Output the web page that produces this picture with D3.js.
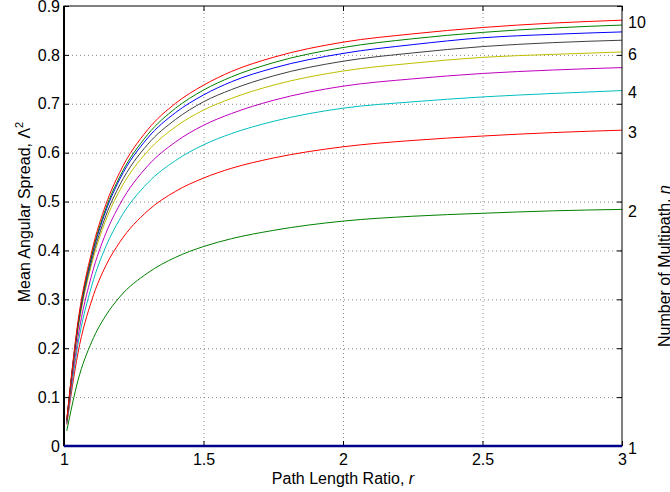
<!DOCTYPE html>
<html>
<head>
<meta charset="utf-8">
<script src="https://cdn.jsdelivr.net/npm/d3@7"></script>
<style>
  body { margin: 0; background: #fff; }
  svg { font-family: "Liberation Sans", Arial, Helvetica, sans-serif; }
</style>
</head>
<body>
<script>
// path length ratio samples
const rValues = [1.01, 1.05, 1.1, 1.15, 1.2, 1.3, 1.4, 1.5, 1.6, 1.75, 2, 2.25, 2.5, 2.75, 3];

// mean angular spread for each number of multipath n
const n1  = [0, 0, 0, 0, 0, 0, 0, 0, 0, 0, 0, 0, 0, 0, 0];
const n2  = [0.031, 0.134, 0.214, 0.267, 0.305, 0.354, 0.386, 0.408, 0.424, 0.441, 0.460, 0.470, 0.476, 0.481, 0.484];
const n3  = [0.044, 0.190, 0.299, 0.369, 0.417, 0.481, 0.521, 0.548, 0.568, 0.589, 0.612, 0.625, 0.634, 0.641, 0.646];
const n4  = [0.046, 0.208, 0.329, 0.408, 0.464, 0.538, 0.584, 0.616, 0.639, 0.664, 0.691, 0.704, 0.714, 0.721, 0.727];
const n5  = [0.048, 0.222, 0.351, 0.435, 0.494, 0.573, 0.622, 0.656, 0.680, 0.707, 0.736, 0.751, 0.762, 0.769, 0.774];
const n6  = [0.050, 0.238, 0.374, 0.462, 0.523, 0.603, 0.653, 0.687, 0.711, 0.738, 0.767, 0.783, 0.795, 0.801, 0.806];
const n7  = [0.051, 0.242, 0.381, 0.471, 0.534, 0.617, 0.668, 0.704, 0.729, 0.757, 0.787, 0.804, 0.817, 0.825, 0.830];
const n8  = [0.052, 0.248, 0.389, 0.481, 0.546, 0.630, 0.682, 0.718, 0.745, 0.773, 0.803, 0.821, 0.835, 0.842, 0.847];
const n9  = [0.053, 0.249, 0.392, 0.486, 0.551, 0.637, 0.691, 0.728, 0.755, 0.784, 0.815, 0.833, 0.846, 0.855, 0.861];
const n10 = [0.054, 0.254, 0.399, 0.494, 0.560, 0.647, 0.701, 0.738, 0.766, 0.795, 0.826, 0.843, 0.856, 0.865, 0.871];

const series = [n1, n2, n3, n4, n5, n6, n7, n8, n9, n10];
const seriesColors = ["#0000ff", "#008000", "#ff0000", "#00bfbf", "#bf00bf",
                      "#bfbf00", "#404040", "#0000ff", "#008000", "#ff0000"];

// right side labels (n) placed at the curve end values
const rightLabels = ["1", "2", "3", "4", "6", "10"];
const rightValues = [0, 0.484, 0.646, 0.727, 0.806, 0.871];

const xTicks = [1, 1.5, 2, 2.5, 3];
const yTicks = [0, 0.1, 0.2, 0.3, 0.4, 0.5, 0.6, 0.7, 0.8, 0.9];

const width = 670;
const height = 492;
const mLeft = 64, mRight = 622, mTop = 6, mBottom = 446;

const svg = d3.select("body")
    .append("svg")
    .attr("width", width)
    .attr("height", height);

const x = d3.scaleLinear().domain([1, 3]).range([mLeft, mRight]);
const y = d3.scaleLinear().domain([0, 0.9]).range([mBottom, mTop]);

// grid
svg.append("g")
    .attr("transform", `translate(0,${mBottom})`)
    .call(d3.axisBottom(x).tickValues(xTicks.slice(1, -1)).tickSize(-(mBottom - mTop)).tickFormat(""))
    .call(g => g.select(".domain").remove())
    .selectAll("line")
    .attr("stroke", "#888")
    .attr("stroke-dasharray", "1,3");

svg.append("g")
    .attr("transform", `translate(${mLeft},0)`)
    .call(d3.axisLeft(y).tickValues(yTicks.slice(1, -1)).tickSize(-(mRight - mLeft)).tickFormat(""))
    .call(g => g.select(".domain").remove())
    .selectAll("line")
    .attr("stroke", "#888")
    .attr("stroke-dasharray", "1,3");

// curves
const line = d3.line()
    .x((d, i) => x(rValues[i]))
    .y(d => y(d))
    .curve(d3.curveMonotoneX);

series.forEach((s, k) => {
    if (k === 0) return;
    svg.append("path")
        .datum(s)
        .attr("fill", "none")
        .attr("stroke", seriesColors[k])
        .attr("stroke-width", 1)
        .attr("d", line);
});

// axes with inward ticks
const fontSize = "16px";

svg.append("g")
    .attr("transform", `translate(0,${mBottom})`)
    .call(d3.axisBottom(x).tickValues(xTicks).tickSizeInner(-5).tickSizeOuter(0).tickPadding(8).tickFormat(d3.format("")))
    .call(g => g.select(".domain").remove())
    .call(g => g.selectAll("text").attr("font-size", fontSize).attr("fill", "#000"));

svg.append("g")
    .attr("transform", `translate(${mLeft},0)`)
    .call(d3.axisLeft(y).tickValues(yTicks).tickSizeInner(-5).tickSizeOuter(0).tickPadding(4).tickFormat(d3.format("")))
    .call(g => g.select(".domain").remove())
    .call(g => g.selectAll("text").attr("font-size", fontSize).attr("fill", "#000"));

svg.append("g")
    .attr("transform", `translate(0,${mTop})`)
    .call(d3.axisTop(x).tickValues(xTicks).tickSizeInner(-5).tickSizeOuter(0).tickFormat(""))
    .call(g => g.select(".domain").remove());

svg.append("g")
    .attr("transform", `translate(${mRight},0)`)
    .call(d3.axisRight(y).tickValues(yTicks).tickSizeInner(-5).tickSizeOuter(0).tickFormat(""))
    .call(g => g.select(".domain").remove());

// n labels on the right
svg.append("g")
    .attr("transform", `translate(${mRight},0)`)
    .call(d3.axisRight(y).tickValues(rightValues).tickSize(0).tickPadding(6)
        .tickFormat((d, i) => rightLabels[i]))
    .call(g => g.select(".domain").remove())
    .call(g => g.selectAll("text").attr("font-size", fontSize).attr("fill", "#000").attr("dy", "0.45em"));

// box
svg.append("rect")
    .attr("x", mLeft).attr("y", mTop)
    .attr("width", mRight - mLeft).attr("height", mBottom - mTop)
    .attr("fill", "none").attr("stroke", "#000").attr("stroke-width", 1);
svg.append("line")
    .attr("x1", mLeft).attr("x2", mLeft).attr("y1", mTop).attr("y2", mBottom)
    .attr("stroke", "#000").attr("stroke-width", 2);

// n = 1 lies on the bottom edge
svg.append("path")
    .datum(n1)
    .attr("fill", "none")
    .attr("stroke", "#00008b")
    .attr("stroke-width", 2.5)
    .attr("d", d3.line().x((d, i) => x(i === 0 ? 1 : rValues[i])).y(d => y(d)));

// axis labels
const xl = svg.append("text")
    .attr("x", (mLeft + mRight) / 2)
    .attr("y", 484)
    .attr("text-anchor", "middle")
    .attr("font-size", fontSize);
xl.append("tspan").text("Path Length Ratio,  ");
xl.append("tspan").attr("font-style", "italic").text("r");

const yl = svg.append("text")
    .attr("transform", "translate(30,212) rotate(-90)")
    .attr("text-anchor", "middle")
    .attr("font-size", fontSize);
yl.append("tspan").text("Mean Angular Spread, \u039B");
yl.append("tspan").attr("font-size", "11px").attr("dy", "-7").text("2");

const rl = svg.append("text")
    .attr("transform", "translate(670,347) rotate(-90)")
    .attr("text-anchor", "start")
    .attr("font-size", fontSize);
rl.append("tspan").text("Number of Multipath, ");
rl.append("tspan").attr("font-style", "italic").text("n");
</script>
</body>
</html>
